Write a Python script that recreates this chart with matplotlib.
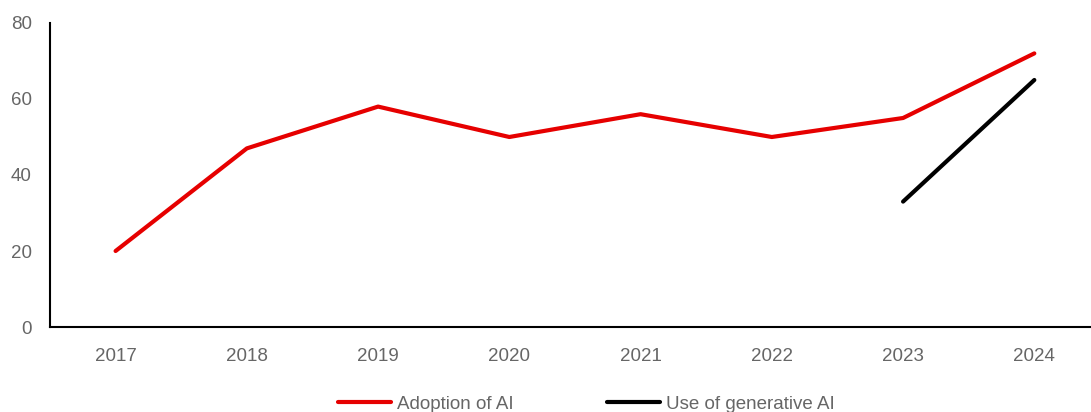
import matplotlib.pyplot as plt

# Data
years = ['2017', '2018', '2019', '2020', '2021', '2022', '2023', '2024']
adoption = [20, 47, 58, 50, 56, 50, 55, 72]
genai_years = ['2023', '2024']
genai = [33, 65]

plt.rcParams['font.family'] = ['Liberation Sans', 'DejaVu Sans']

fig = plt.figure(figsize=(10.91, 4.12), dpi=100)
ax = fig.add_axes([0.0458, 0.2063, 0.9624, 0.7379])

x = list(range(len(years)))
gx = [years.index(y) for y in genai_years]
ax.plot(x, adoption, color='#e60000', lw=3, solid_capstyle='round', label='Adoption of AI')
ax.plot(gx, genai, color='black', lw=3, solid_capstyle='round', label='Use of generative AI')

ax.set_xlim(-0.5, len(years) - 0.5)
ax.set_ylim(0, 80)
ax.set_yticks([0, 20, 40, 60, 80])
ax.set_xticks(x)
ax.set_xticklabels(years)

for s in ['top', 'right']:
    ax.spines[s].set_visible(False)
for s in ['left', 'bottom']:
    ax.spines[s].set_linewidth(1.5)
ax.tick_params(axis='both', length=0, labelsize=13.5, colors='#666666')
ax.tick_params(axis='y', pad=13)
ax.tick_params(axis='x', pad=15)

fig.legend(loc='center', bbox_to_anchor=(0.5376, 0.019), ncol=2, frameon=False,
           fontsize=13.5, labelcolor='#666666', handlelength=2.8, handletextpad=0.32,
           columnspacing=5.0)

fig.savefig('out.png', dpi=100)
